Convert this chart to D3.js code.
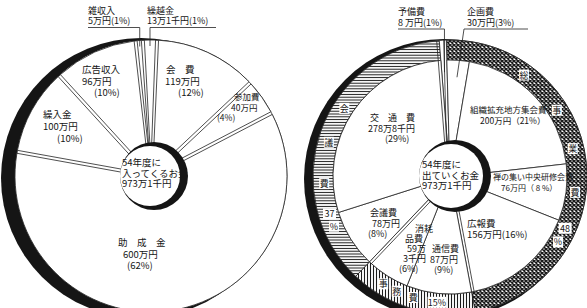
<!DOCTYPE html>
<html>
<head>
<meta charset="utf-8">
<script src="https://cdn.jsdelivr.net/npm/d3@7"></script>
<style>
body { margin: 0; background: #fff; }
text { font-family: "Noto Sans CJK JP", sans-serif; fill: #151515; }
</style>
</head>
<body>
<div class="chart"></div>
<script>
// 54年度に入ってくるお金 (income)
const inNames = ['雑収入', '繰越金', '会費', '参加費', '助成金', '繰入金', '広告収入']
const inValues = [5, 13.1, 119, 40, 600, 100, 96]
const inAmounts = ['5万円', '13万1千円', '119万円', '40万円', '600万円', '100万円', '96万円']
const inPcts = [1, 1, 12, 4, 62, 10, 10]

// 54年度に出ていくお金 (spending)
const outNames = ['予備費', '企画費', '組織拡充地方集会費', '禅の集い中央研修会費', '広報費', '通信費', '消耗品費', '会議費', '交通費']
const outValues = [8, 30, 200, 76, 156, 87, 59.3, 78, 278.8]
const outAmounts = ['8 万円', '30万円', '200万円', '76万円', '156万円', '87万円', '59万3千円', '78万円', '278万8千円']
const outPcts = [1, 3, 21, 8, 16, 9, 6, 8, 29]
const outGroups = ['予備費', '総事業費', '総事業費', '総事業費', '総事業費', '事務費', '事務費', '会議費', '会議費']

// outer ring groups
const groupNames = ['予備費', '総事業費', '事務費', '会議費']
const groupPcts = [1, 48, 15, 37]

const deg = Math.PI / 180
const W = 587, H = 308

const svg = d3.select('.chart').append('svg')
    .attr('width', W)
    .attr('height', H)

// fill patterns for the ring
const defs = svg.append('defs')
function pattern(id, w, h, d, sw) {
    const p = defs.append('pattern').attr('id', id)
        .attr('width', w).attr('height', h)
        .attr('patternUnits', 'userSpaceOnUse')
    p.append('rect').attr('width', w).attr('height', h).attr('fill', '#fff')
    p.append('path').attr('d', d).attr('stroke', '#1a1a1a').attr('stroke-width', sw)
}
pattern('cross', 4, 4, 'M0,0L4,4M4,0L0,4', 1.5)
pattern('hlines', 4, 2.8, 'M0,1.4H4', 1)
pattern('vlines', 3, 4, 'M1.5,0V4', 1.1)
const groupFill = { '予備費': '#fff', '総事業費': 'url(#cross)', '事務費': 'url(#vlines)', '会議費': 'url(#hlines)' }

function polar(c, a, r) {
    return [c.x + r * Math.sin(a), c.y - r * Math.cos(a)]
}

function manYen(v) {
    const man = Math.floor(v)
    const sen = Math.round((v - man) * 10)
    return sen ? `${man}万${sen}千円` : `${man}万円`
}

function drawLabels(g, names, amounts, pcts, layout) {
    names.forEach((name, i) => {
        const L = layout[name]
        if (!L) return
        const d = {
            name: L.spaced ? name.split('').join('　') : name,
            amount: amounts[i],
            pct: pcts[i]
        }
        const lines = L.lines ? L.lines(d) : [d.name, d.amount, `(${d.pct}%)`]
        const t = g.append('text').attr('font-size', L.fs || 9)
        lines.forEach((s, k) => {
            t.append('tspan')
                .attr('x', L.x + (L.dx ? L.dx[k] : 0))
                .attr('y', L.y + k * L.lh)
                .text(s)
        })
    })
}

function centerText(g, x, y, lines) {
    const t = g.append('text').attr('font-size', 9.5)
    lines.forEach((s, k) => t.append('tspan').attr('x', x).attr('y', y + k * 10.5).text(s))
}

function leaders(g, c, arcs, names, layout) {
    arcs.forEach((a, i) => {
        const L = layout[names[i]]
        if (!L) return
        const mid = (a.startAngle + a.endAngle) / 2
        const p = polar(c, mid, L.r)
        const from = L.from === undefined ? p[0] : L.from
        const x0 = L.u0 === undefined ? p[0] : L.u0
        const x1 = L.u1 === undefined ? p[0] : L.u1
        g.append('path')
            .attr('d', `M${x0},${L.uy}H${x1}M${from},${L.uy}L${p[0]},${p[1]}`)
            .attr('fill', 'none')
            .attr('stroke', '#222')
            .attr('stroke-width', 0.8)
    })
}

// ============ left chart: income ============
const cL = { x: 151, y: 176, r: 136, r0: 30 }
const gL = svg.append('g')

// shadow and face
gL.append('circle').attr('cx', cL.x - 10).attr('cy', cL.y + 2).attr('r', cL.r + 4).attr('fill', '#151515')
gL.append('circle').attr('cx', cL.x).attr('cy', cL.y).attr('r', cL.r)
    .attr('fill', '#fff').attr('stroke', '#333').attr('stroke-width', 0.8)

const pieL = d3.pie().sort(null)
    .startAngle(-6.5 * deg)
    .endAngle(353.5 * deg)
    .padAngle(0.022)
const arcL = d3.arc().innerRadius(12).outerRadius(cL.r)
const slicesL = pieL(inValues)

gL.append('g')
    .attr('transform', `translate(${cL.x}, ${cL.y})`)
    .selectAll('path')
    .data(slicesL)
    .enter()
    .append('path')
    .attr('d', arcL)
    .attr('fill', '#fff')
    .attr('stroke', '#222')
    .attr('stroke-width', 0.8)

// hub
gL.append('circle').attr('cx', cL.x + 3).attr('cy', cL.y).attr('r', cL.r0 + 4).attr('fill', '#151515')
gL.append('circle').attr('cx', cL.x - 1).attr('cy', cL.y).attr('r', cL.r0)
    .attr('fill', '#fff')
centerText(gL, 122, 166, ['54年度に', '入ってくるお金', manYen(d3.sum(inValues))])

const inLayout = {
    '雑収入': { x: 88, y: 14, lh: 10, lines: d => [d.name, `${d.amount}(${d.pct}%)`] },
    '繰越金': { x: 147, y: 14, lh: 10, lines: d => [d.name, `${d.amount}(${d.pct}%)`] },
    '会費': { x: 166, y: 73, lh: 11.5, fs: 9.5, spaced: true, dx: [0, -1, 12] },
    '参加費': { x: 234, y: 100, lh: 10.5, fs: 8.5, dx: [0, -3, -17] },
    '助成金': { x: 118, y: 246, lh: 11.5, fs: 9.5, spaced: true, dx: [0, 5, 9] },
    '繰入金': { x: 43, y: 118, lh: 12, fs: 9.5, dx: [0, 0, 14] },
    '広告収入': { x: 82, y: 73, lh: 11.5, fs: 9.5, dx: [0, 0, 12] }
}
drawLabels(gL, inNames, inAmounts, inPcts, inLayout)

leaders(gL, cL, slicesL, inNames, {
    '雑収入': { r: cL.r - 6, uy: 27.5, u0: 88 },
    '繰越金': { r: cL.r - 6, uy: 27.5, u1: 216 }
})

// ============ right chart: spending ============
const cR = { x: 450, y: 177, r: 137, ring: 117, r0: 32 }
const gR = svg.append('g')

gR.append('circle').attr('cx', cR.x - 6).attr('cy', cR.y + 2).attr('r', cR.r + 3).attr('fill', '#151515')
gR.append('circle').attr('cx', cR.x).attr('cy', cR.y).attr('r', cR.r)
    .attr('fill', '#fff').attr('stroke', '#333').attr('stroke-width', 0.8)

const start = -4.5 * deg
const groupValues = groupNames.map(g => d3.sum(outValues.filter((v, i) => outGroups[i] === g)))
const ringArcs = d3.pie().sort(null).startAngle(start).endAngle(start + 2 * Math.PI)(groupValues)
const ringArc = d3.arc().innerRadius(cR.ring).outerRadius(cR.r)

const gRc = gR.append('g').attr('transform', `translate(${cR.x}, ${cR.y})`)
gRc.selectAll('.ring')
    .data(ringArcs)
    .enter()
    .append('path')
    .classed('ring', true)
    .attr('d', ringArc)
    .attr('fill', (d, i) => groupFill[groupNames[i]])
    .attr('stroke', '#222')
    .attr('stroke-width', 0.8)

const slicesR = d3.pie().sort(null).startAngle(start).endAngle(start + 2 * Math.PI)(outValues)
const arcR = d3.arc()
    .innerRadius(10)
    .outerRadius(d => outGroups[d.index] === '予備費' ? cR.r : cR.ring)

gRc.selectAll('.slice')
    .data(slicesR)
    .enter()
    .append('path')
    .classed('slice', true)
    .attr('d', arcR)
    .attr('fill', '#fff')
    .attr('stroke', '#222')
    .attr('stroke-width', 0.8)

// doubled dividers
const doubleAfter = ['交通費', '予備費', '広報費', '消耗品費']
slicesR.forEach((s, i) => {
    if (!doubleAfter.includes(outNames[i])) return
    const a = s.endAngle
    const outer = (outNames[i] === '交通費' || outNames[i] === '予備費') ? cR.r : cR.ring
    const off = 2.6
    const ox = -Math.cos(a) * off, oy = -Math.sin(a) * off
    const p1 = polar(cR, a, cR.r0), p2 = polar(cR, a, outer)
    gR.append('line')
        .attr('x1', p1[0] + ox).attr('y1', p1[1] + oy)
        .attr('x2', p2[0] + ox).attr('y2', p2[1] + oy)
        .attr('stroke', '#222').attr('stroke-width', 0.8)
})

// hub
gR.append('circle').attr('cx', cR.x + 5).attr('cy', cR.y - 1).attr('r', cR.r0 + 4).attr('fill', '#151515')
gR.append('circle').attr('cx', cR.x + 1).attr('cy', cR.y - 1).attr('r', cR.r0).attr('fill', '#fff')
centerText(gR, 422, 168, ['54年度に', '出ていくお金', manYen(d3.sum(outValues))])

// ring captions (angle in degrees along the ring)
const ringAngles = {
    '総事業費': [36, 58, 77, 97, 114, 121],
    '事務費': [212, 205, 197, 186],
    '会議費': [303, 286, 267, 253, 247]
}
const gRing = gR.append('g')
groupNames.forEach((g, i) => {
    const angles = ringAngles[g]
    if (!angles) return
    let items = g.split('')
    if (angles.length === items.length + 2) items = items.concat([String(groupPcts[i]), '%'])
    else items = items.concat([groupPcts[i] + '%'])
    items.forEach((s, k) => {
        const p = polar(cR, angles[k] * deg, (cR.ring + cR.r) / 2 - 1)
        const w = s.length > 1 ? s.length * 5.5 + 2 : 10
        gRing.append('rect')
            .attr('x', p[0] - w / 2).attr('y', p[1] - 5.5)
            .attr('width', w).attr('height', 11)
            .attr('fill', '#fff')
        gRing.append('text')
            .attr('x', p[0]).attr('y', p[1] + 3.5)
            .attr('text-anchor', 'middle')
            .attr('font-size', 9)
            .text(s)
    })
})

const outLayout = {
    '予備費': { x: 398, y: 15, lh: 11, lines: d => [d.name, `${d.amount}(${d.pct}%)`] },
    '企画費': { x: 467, y: 15, lh: 11, lines: d => [d.name, `${d.amount}(${d.pct}%)`] },
    '組織拡充地方集会費': { x: 470, y: 113, lh: 11, fs: 8.5, dx: [0, 10], lines: d => [d.name, `${d.amount}（${d.pct}%）`] },
    '禅の集い中央研修会費': { x: 493, y: 180, lh: 11, fs: 8, dx: [0, 8], lines: d => [d.name, `${d.amount}（ ${d.pct} %）`] },
    '広報費': { x: 467, y: 227, lh: 11, fs: 9.5, lines: d => [d.name, `${d.amount}(${d.pct}%)`] },
    '通信費': { x: 432, y: 252, lh: 10.5, dx: [0, -2, 2] },
    '消耗品費': { x: 415, y: 232, lh: 10, dx: [0, -10, -8, -12, -16], lines: d => ['消耗', '品費', '59万', '3千円', `(${d.pct}%)`] },
    '会議費': { x: 370, y: 216, lh: 10.5, dx: [0, 2, -2] },
    '交通費': { x: 370, y: 121, lh: 10.5, spaced: true, dx: [0, -2, 15] }
}
drawLabels(gR, outNames, outAmounts, outPcts, outLayout)

leaders(gR, cR, slicesR, outNames, {
    '予備費': { r: 105, uy: 29, u0: 398 },
    '企画費': { r: 100, uy: 29, u0: 464, u1: 528, from: 464 }
})
</script>
</body>
</html>
